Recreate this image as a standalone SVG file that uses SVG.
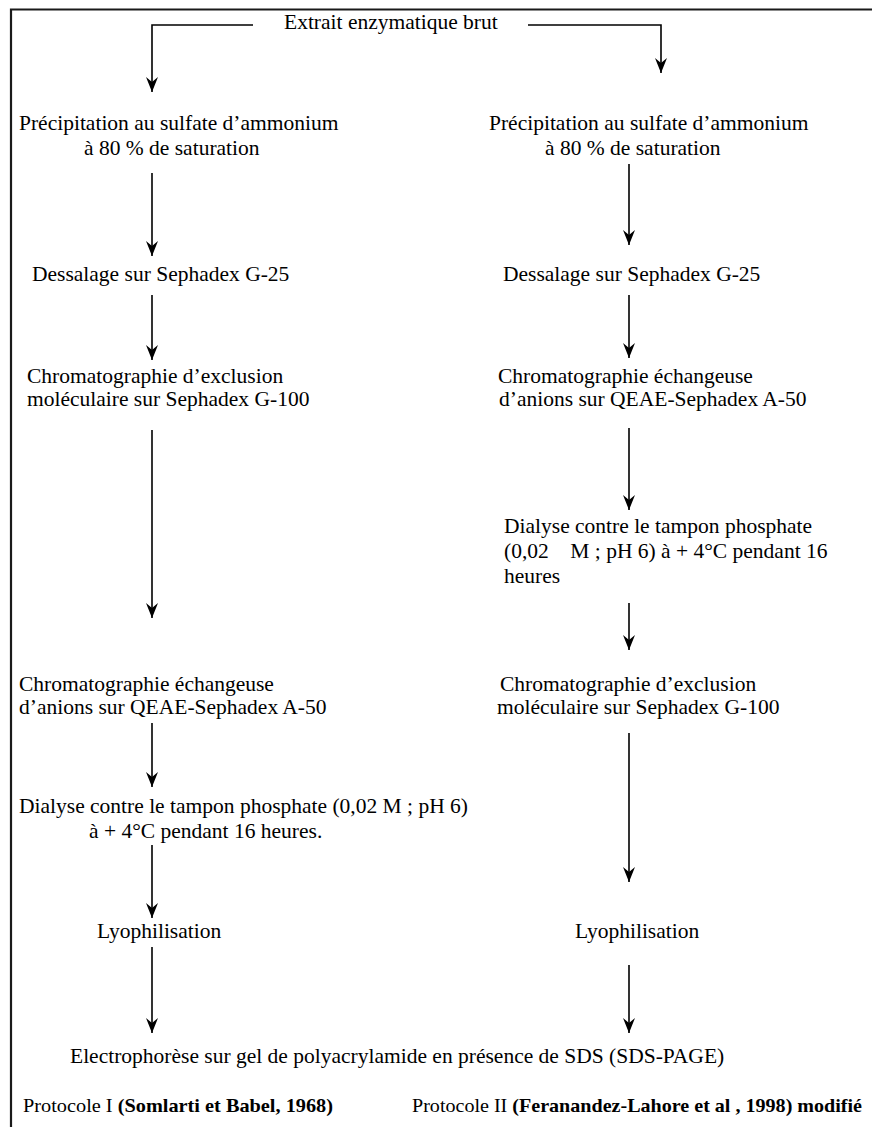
<svg xmlns="http://www.w3.org/2000/svg" width="872" height="1127" viewBox="0 0 872 1127">
<style>
text{font-family:"Liberation Serif","Times New Roman",serif;font-size:21.5px;fill:#000}
.b{font-weight:bold}
.small{font-size:19px}
.c{fill:none;stroke:#000;stroke-width:1.6}
.frame{fill:none;stroke:#1a1a1a;stroke-width:2.2}
</style>
<defs>
<marker id="ah" viewBox="-16 -7 17 14" markerWidth="17" markerHeight="14" refX="0" refY="0" orient="auto" markerUnits="userSpaceOnUse">
<path d="M0,0 L-15,-6 L-10,0 L-15,6 Z" fill="#000"/>
</marker>
</defs>
<rect width="872" height="1127" fill="#fff"/>
<path class="frame" d="M11,1127 V9.5 H872"/>
<g id="connectors">
<path class="c" d="M253,25 H152 V92" marker-end="url(#ah)"/>
<path class="c" d="M528,25 H661 V73" marker-end="url(#ah)"/>
<path class="c" d="M152,173 V256" marker-end="url(#ah)"/>
<path class="c" d="M152,295 V360" marker-end="url(#ah)"/>
<path class="c" d="M152,430 V618" marker-end="url(#ah)"/>
<path class="c" d="M152,723 V787" marker-end="url(#ah)"/>
<path class="c" d="M152,845 V918" marker-end="url(#ah)"/>
<path class="c" d="M152,947 V1033" marker-end="url(#ah)"/>
<path class="c" d="M629,164 V245" marker-end="url(#ah)"/>
<path class="c" d="M629,295 V358" marker-end="url(#ah)"/>
<path class="c" d="M629,428 V510" marker-end="url(#ah)"/>
<path class="c" d="M629,603 V650" marker-end="url(#ah)"/>
<path class="c" d="M629,733 V882" marker-end="url(#ah)"/>
<path class="c" d="M629,965 V1033" marker-end="url(#ah)"/>
</g>
<g id="n-extrait"><text x="284" y="29">Extrait enzymatique brut</text></g>
<g id="n-l-precip"><text x="19" y="130">Précipitation au sulfate d’ammonium</text><text x="84" y="155">à 80 % de saturation</text></g>
<g id="n-l-dessalage"><text x="32" y="281">Dessalage sur Sephadex G-25</text></g>
<g id="n-l-exclusion"><text x="27" y="383">Chromatographie d’exclusion</text><text x="27" y="406">moléculaire sur Sephadex G-100</text></g>
<g id="n-l-echange"><text x="19" y="691">Chromatographie échangeuse</text><text x="19" y="714">d’anions sur QEAE-Sephadex A-50</text></g>
<g id="n-l-dialyse"><text x="19" y="813">Dialyse contre le tampon phosphate (0,02 M ; pH 6)</text><text x="89" y="838">à + 4°C pendant 16 heures.</text></g>
<g id="n-l-lyo"><text x="97" y="938">Lyophilisation</text></g>
<g id="n-r-precip"><text x="489" y="130">Précipitation au sulfate d’ammonium</text><text x="545" y="155">à 80 % de saturation</text></g>
<g id="n-r-dessalage"><text x="503" y="281">Dessalage sur Sephadex G-25</text></g>
<g id="n-r-echange"><text x="498" y="383">Chromatographie échangeuse</text><text x="499" y="406">d’anions sur QEAE-Sephadex A-50</text></g>
<g id="n-r-dialyse"><text x="504" y="533">Dialyse contre le tampon phosphate</text><text x="504" y="558" xml:space="preserve">(0,02    M ; pH 6) à + 4°C pendant 16</text><text x="504" y="583">heures</text></g>
<g id="n-r-exclusion"><text x="500" y="691">Chromatographie d’exclusion</text><text x="497" y="714">moléculaire sur Sephadex G-100</text></g>
<g id="n-r-lyo"><text x="575" y="938">Lyophilisation</text></g>
<g id="n-sds"><text x="70" y="1063">Electrophorèse sur gel de polyacrylamide en présence de SDS (SDS-PAGE)</text></g>
<g id="n-proto1"><text class="small" x="23" y="1112" textLength="310" lengthAdjust="spacingAndGlyphs">Protocole I <tspan class="b">(Somlarti et Babel, 1968)</tspan></text></g>
<g id="n-proto2"><text class="small" x="412" y="1112" textLength="450" lengthAdjust="spacingAndGlyphs">Protocole II <tspan class="b">(Feranandez-Lahore et al , 1998) modifié</tspan></text></g>
</svg>
